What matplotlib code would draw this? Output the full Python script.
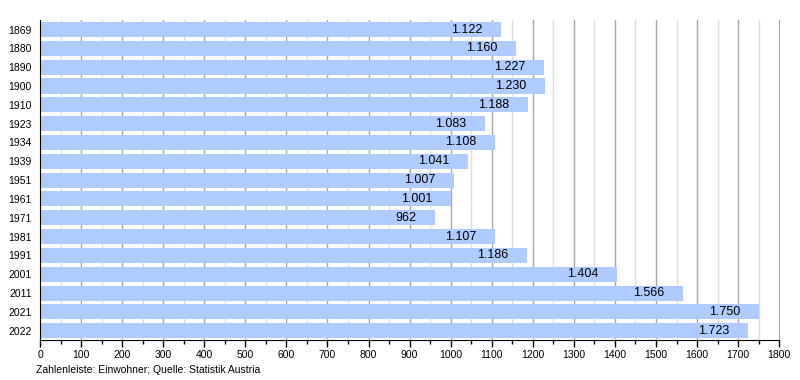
import matplotlib.pyplot as plt
import numpy as np

plt.rcParams['font.family'] = ['Liberation Sans', 'DejaVu Sans']

years = ['1869', '1880', '1890', '1900', '1910', '1923', '1934', '1939', '1951',
         '1961', '1971', '1981', '1991', '2001', '2011', '2021', '2022']
population = [1122, 1160, 1227, 1230, 1188, 1083, 1108, 1041, 1007,
              1001, 962, 1107, 1186, 1404, 1566, 1750, 1723]
labels = ['1.122', '1.160', '1.227', '1.230', '1.188', '1.083', '1.108', '1.041', '1.007',
          '1.001', '962', '1.107', '1.186', '1.404', '1.566', '1.750', '1.723']

fig = plt.figure(figsize=(8, 3.8), dpi=100)
ax = fig.add_axes([0.05, 0.105, 0.924, 0.842])

y = np.arange(len(years))
ax.barh(y, population, height=0.8, color='#b0cbff', zorder=2)

for i, (v, t) in enumerate(zip(population, labels)):
    ax.text(v - 45, i, t, ha='right', va='center', fontsize=9, color='black', zorder=3)

ax.set_xlim(0, 1800)
ax.set_ylim(len(years) - 0.5, -0.5)
ax.set_yticks(y)
ax.set_yticklabels(years, fontsize=7.5)
ax.tick_params(axis='y', length=0, pad=6)

ax.set_xticks(np.arange(0, 1801, 100))
ax.set_xticks(np.arange(50, 1800, 100), minor=True)
ax.tick_params(axis='x', which='major', length=5, width=1, labelsize=7.5, pad=2)
ax.tick_params(axis='x', which='minor', length=3, width=1)

for x in range(100, 1800, 100):
    ax.axvline(x, color='#a8a8a8', lw=1, zorder=1)
for x in range(50, 1800, 100):
    ax.axvline(x, color='#dddddd', lw=1, zorder=1)

ax.spines['top'].set_visible(False)
ax.spines['right'].set_color('#a8a8a8')
ax.spines['left'].set_color('black')
ax.spines['bottom'].set_color('black')

fig.text(0.045, 0.018, 'Zahlenleiste: Einwohner; Quelle: Statistik Austria', fontsize=7.5)

fig.savefig('out.png', dpi=100)
